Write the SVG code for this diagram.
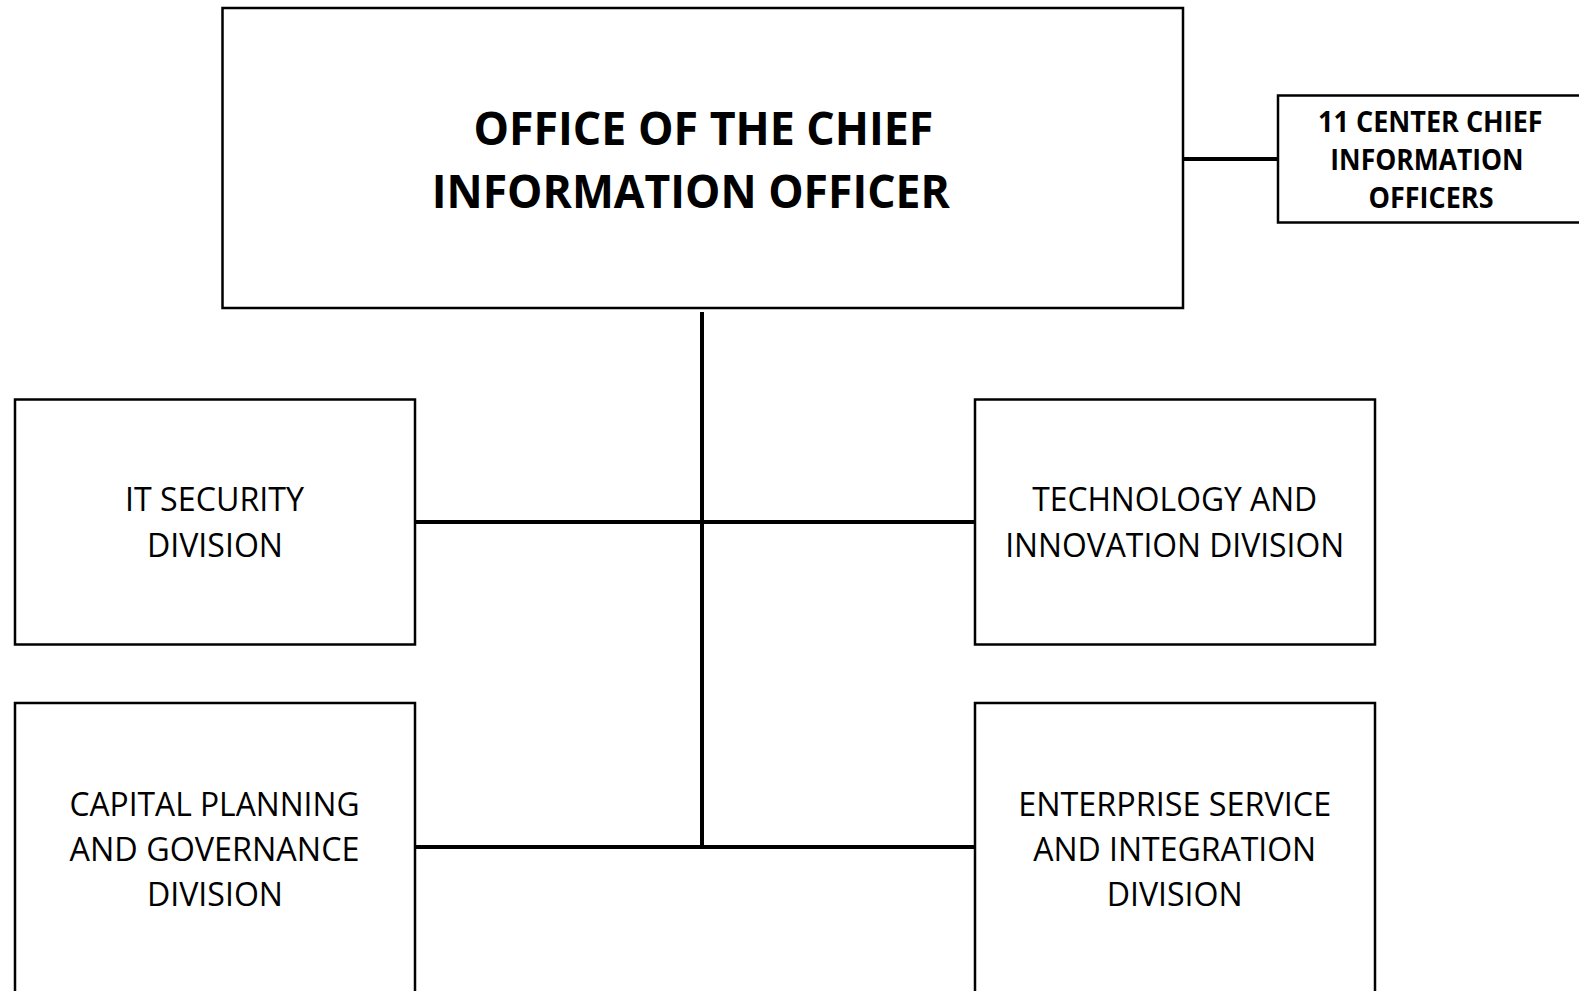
<svg xmlns="http://www.w3.org/2000/svg" width="1579" height="991" viewBox="0 0 1579 991">
<style>
.box{fill:#fff;stroke:#000;stroke-width:2.5}
.con{stroke:#000;stroke-width:4;fill:none}
text{font-family:"Open Sans","Liberation Sans",sans-serif;fill:#000;text-anchor:middle}
.t{font-size:47px;font-weight:bold}
.s{font-size:28px;font-weight:bold}
.d{font-size:33px}
</style>
<rect width="1579" height="991" fill="#fff"/>
<g id="connectors">
<line class="con" x1="1183" y1="159" x2="1278" y2="159"/>
<line class="con" x1="702" y1="312" x2="702" y2="847"/>
<line class="con" x1="415" y1="522" x2="975" y2="522"/>
<line class="con" x1="415" y1="847" x2="975" y2="847"/>
</g>
<g id="ocio">
<rect class="box" x="222.5" y="8" width="960.5" height="300"/>
<text class="t" x="703.4" y="144.5" textLength="460" lengthAdjust="spacingAndGlyphs">OFFICE OF THE CHIEF</text>
<text class="t" x="690.8" y="208" textLength="518" lengthAdjust="spacingAndGlyphs">INFORMATION OFFICER</text>
</g>
<g id="center-cios">
<rect class="box" x="1278" y="95.5" width="312" height="127"/>
<text class="s" x="1430.4" y="131.5" textLength="224.6" lengthAdjust="spacingAndGlyphs">11 CENTER CHIEF</text>
<text class="s" x="1427" y="169.5" textLength="193.3" lengthAdjust="spacingAndGlyphs">INFORMATION</text>
<text class="s" x="1431" y="208" textLength="125" lengthAdjust="spacingAndGlyphs">OFFICERS</text>
</g>
<g id="it-security">
<rect class="box" x="15" y="399.5" width="400" height="245"/>
<text class="d" x="214.5" y="511" textLength="179" lengthAdjust="spacingAndGlyphs">IT SECURITY</text>
<text class="d" x="215" y="556.5" textLength="136" lengthAdjust="spacingAndGlyphs">DIVISION</text>
</g>
<g id="tech-innovation">
<rect class="box" x="975" y="399.5" width="400" height="245"/>
<text class="d" x="1174.7" y="511" textLength="285" lengthAdjust="spacingAndGlyphs">TECHNOLOGY AND</text>
<text class="d" x="1174.7" y="556.5" textLength="339" lengthAdjust="spacingAndGlyphs">INNOVATION DIVISION</text>
</g>
<g id="capital-planning">
<rect class="box" x="15" y="703" width="400" height="310"/>
<text class="d" x="214.5" y="815.5" textLength="290" lengthAdjust="spacingAndGlyphs">CAPITAL PLANNING</text>
<text class="d" x="214.5" y="860.5" textLength="290" lengthAdjust="spacingAndGlyphs">AND GOVERNANCE</text>
<text class="d" x="215" y="905.5" textLength="136" lengthAdjust="spacingAndGlyphs">DIVISION</text>
</g>
<g id="enterprise-service">
<rect class="box" x="975" y="703" width="400" height="310"/>
<text class="d" x="1174.7" y="815.5" textLength="313" lengthAdjust="spacingAndGlyphs">ENTERPRISE SERVICE</text>
<text class="d" x="1174.7" y="860.5" textLength="283" lengthAdjust="spacingAndGlyphs">AND INTEGRATION</text>
<text class="d" x="1174.7" y="905.5" textLength="136" lengthAdjust="spacingAndGlyphs">DIVISION</text>
</g>
</svg>
